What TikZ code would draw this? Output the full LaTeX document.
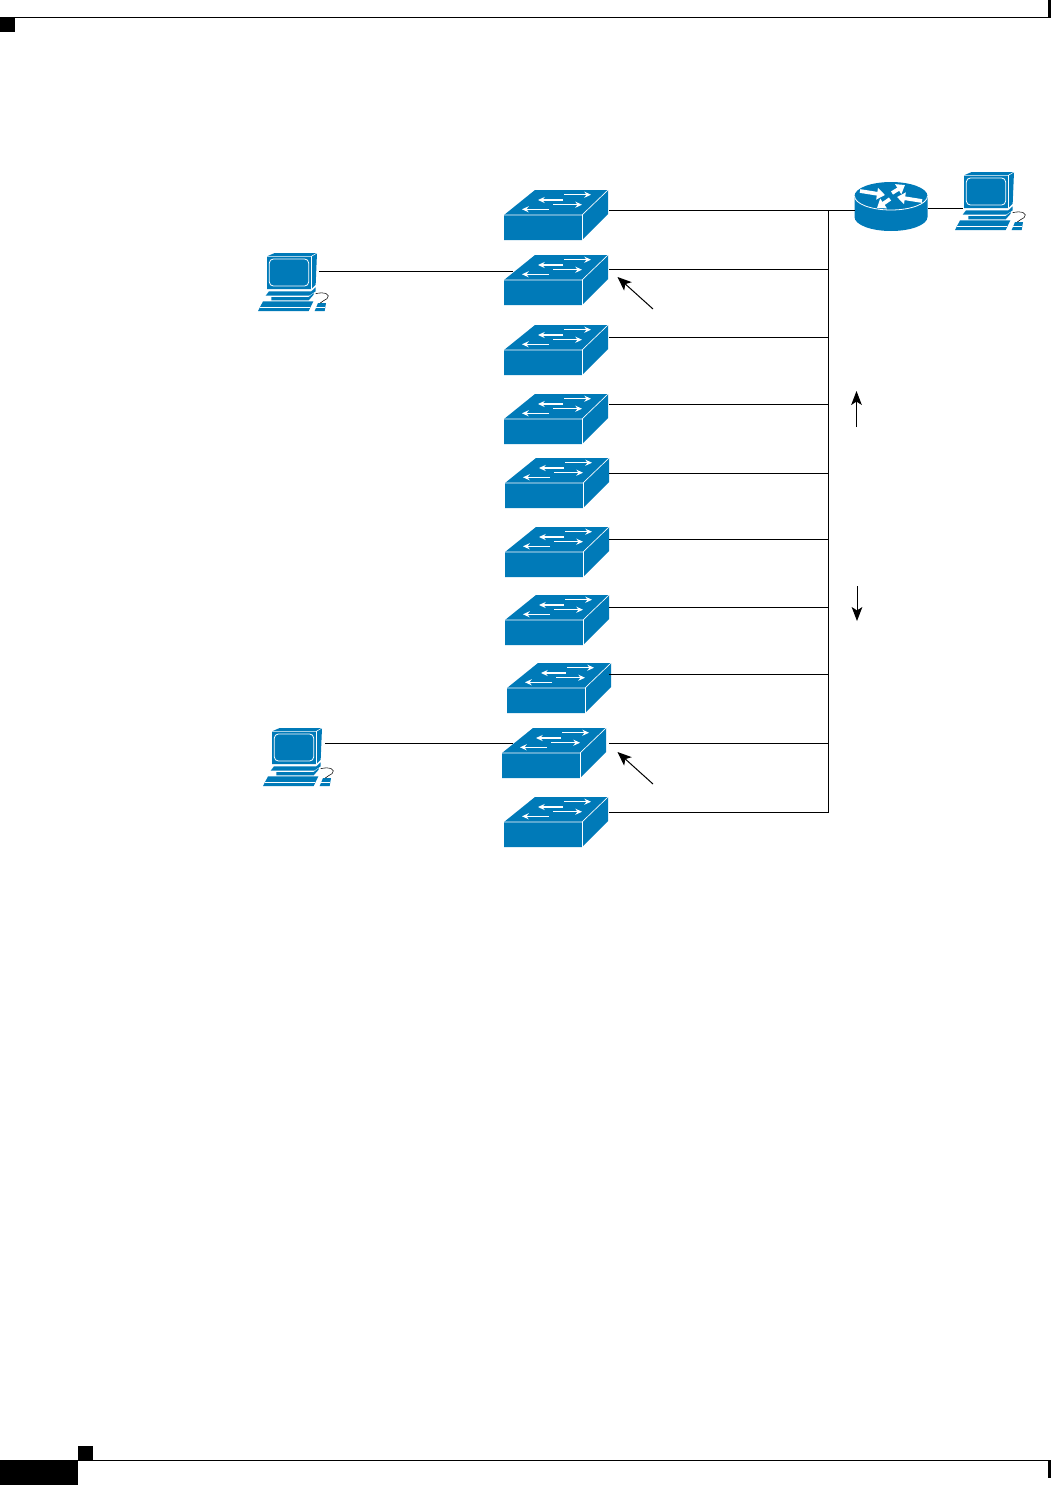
\documentclass[tikz,border=0pt]{standalone}
\usetikzlibrary{arrows.meta}
\definecolor{ciscoblue}{HTML}{007AB8}
\tikzset{
  px/.style={x=0.75pt,y=-0.75pt},
  wire/.style={draw=black,line width=0.75pt},
  callout/.style={draw=black,line width=0.75pt,-{Stealth[length=10.5pt,width=8.5pt,inset=2.6pt]}},
  flow/.style={draw=black,line width=0.75pt,-{Stealth[length=10.5pt,width=8pt,inset=2.6pt]}},
  wa/.style={draw=white,line width=1.1pt,-{Stealth[length=5pt,width=4.5pt]}},
  ra/.style={draw=white,line width=2.8pt,-{Stealth[length=6pt,width=8.5pt,inset=0pt]}},
  marker/.style={fill=black,draw=none},
  switchicon/.pic={
    \fill[ciscoblue] (0,25) -- (31,0) -- (104,0) -- (104,24) -- (78,50) -- (0,50) -- cycle;
    \draw[white,line width=0.5pt,line join=round] (0,25) -- (78,25) -- (104,0);
    \draw[white,line width=0.5pt] (78,25) -- (78,50);
    \draw[wa] (60,4.7) -- (87,4.7);
    \draw[wa] (59,10) -- (34,10);
    \draw[wa] (49,14.7) -- (78,14.7);
    \draw[wa] (45,19.3) -- (18,19.3);
  },
  pcicon/.pic={
    \begin{scope}[x=0.25pt,y=-0.25pt,shift={(-372,-35)}]
      \fill[ciscoblue] (372,45) -- (395,35) -- (522,35) -- (518,130) -- (505,143) -- (372,143) -- cycle;
      \draw[white,line width=0.4pt] (372,45) -- (505,45) -- (522,35);
      \draw[white,line width=0.4pt] (505,45) -- (505,143);
      \draw[white,line width=0.6pt,rounded corners=3pt] (379,53) rectangle (497,134);
      \fill[ciscoblue] (368,163) -- (378,150) -- (505,150) -- (518,138) -- (518,150) -- (498,163) -- cycle;
      \fill[ciscoblue] (385,167) -- (497,167) -- (512,155) -- (512,160) -- (497,177) -- (385,177) -- cycle;
      \fill[ciscoblue] (345,209) -- (360,180) -- (511,180) -- (497,209) -- cycle;
      \draw[white,line width=0.3pt] (351,198) -- (500,198);
      \fill[ciscoblue] (515,209) -- (525,185) -- (549,185) -- (545,209) -- cycle;
      \draw[white,line width=0.3pt] (520,198) -- (547,198);
      \draw[black,line width=0.4pt] (518,157) .. controls (545,150) and (565,160) .. (552,172) .. controls (545,178) and (538,178) .. (532,185);
    \end{scope}
  },
  routericon/.pic={
    \fill[ciscoblue] (-36.5,0) -- (-36.5,21) arc[start angle=180,end angle=0,x radius=36.5,y radius=14] -- (36.5,0) -- cycle;
    \fill[ciscoblue] (0,0) ellipse[x radius=36.5,y radius=14];
    \draw[white,line width=0.6pt] (-36.5,0) arc[start angle=180,end angle=0,x radius=36.5,y radius=14];
    \draw[ra] (-31,-5) -- (-6,-1);
    \draw[ra] (1,-3) -- (14,-11);
    \draw[ra] (31,5) -- (6,1);
    \draw[ra] (-1,3) -- (-14,12);
  }
}
\begin{document}
\begin{tikzpicture}[px]
\useasboundingbox (0,0) rectangle (1051,1485);
\coordinate (tl) at (0,17.5);
\coordinate (tr) at (1051,17.5);
\draw[wire] (tl) -- (tr);
\fill[marker] (0,17) rectangle (15,32);
\fill[marker] (1048,0) rectangle (1051,17);
\coordinate (bl) at (78,1460.5);
\coordinate (br) at (1051,1460.5);
\draw[wire] (bl) -- (br);
\fill[marker] (78,1446) rectangle (93,1460);
\fill[marker] (0,1460) rectangle (78,1485);
\fill[marker] (1048,1460) rectangle (1051,1478);
\pic at (504,190) {switchicon};
\pic at (504,255) {switchicon};
\pic at (504,325) {switchicon};
\pic at (504,394) {switchicon};
\pic at (505,458) {switchicon};
\pic at (505,527) {switchicon};
\pic at (505,595) {switchicon};
\pic at (507,663) {switchicon};
\pic at (502,728) {switchicon};
\pic at (504,797) {switchicon};
\pic at (891,196) {routericon};
\pic at (964,172) {pcicon};
\pic at (267,253) {pcicon};
\pic at (272,728) {pcicon};
\foreach \n/\y in {1/210.5,2/269.5,3/337.5,4/404.5,5/473.5,6/539.5,7/607.5,8/674.5,9/743.5,10/812.5}{
  \coordinate (sw\n) at (609,\y);
  \coordinate (bus\n) at (828.5,\y);
}
\coordinate (rtrw) at (855,210.5);
\coordinate (rtre) at (928,208.5);
\coordinate (pcre) at (963,208.5);
\coordinate (pcaw) at (319,271.5);
\coordinate (swaw) at (513,271.5);
\coordinate (pcbw) at (325,743.5);
\coordinate (swbw) at (513,743.5);
\coordinate (ca) at (653,309);
\coordinate (cat) at (617.5,277);
\coordinate (cb) at (653,784);
\coordinate (cbt) at (617.5,752);
\coordinate (up0) at (856.5,427);
\coordinate (up1) at (856.5,391);
\coordinate (dn0) at (857,586);
\coordinate (dn1) at (857,621);
\foreach \n in {2,...,10}{\draw[wire] (sw\n) -- (bus\n);}
\draw[wire] (sw1) -- (rtrw);
\draw[wire,line cap=rect] (bus1) -- (bus10);
\draw[wire] (rtre) -- (pcre);
\draw[wire] (pcaw) -- (swaw);
\draw[wire] (pcbw) -- (swbw);
\draw[callout] (ca) -- (cat);
\draw[callout] (cb) -- (cbt);
\draw[flow] (up0) -- (up1);
\draw[flow] (dn0) -- (dn1);
\end{tikzpicture}
\end{document}
